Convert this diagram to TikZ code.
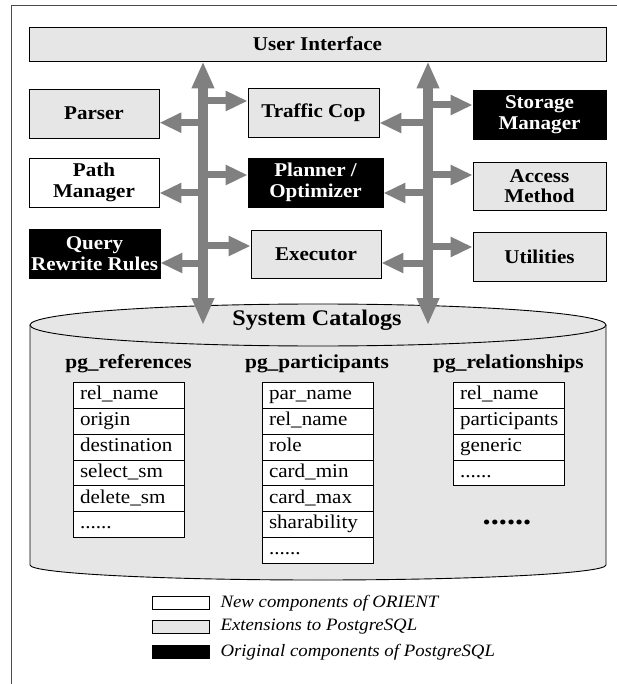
\documentclass[tikz,border=0pt]{standalone}
\usepackage{fontspec}
\setmainfont{Liberation Serif}[FakeStretch=1.08]
\usepackage{tikz}
\usetikzlibrary{arrows.meta,positioning}
\definecolor{PgBoxGray}{RGB}{230,230,230}
\definecolor{PgArrowGray}{RGB}{128,128,128}
\newcommand{\pgmore}{......}

\begin{document}
\begin{tikzpicture}[x=1pt,y=-1pt,
comp/.style n args={3}{draw=black,line width=0.9pt,fill=#1,text=#2,minimum width=#3pt,minimum height=49pt,inner sep=0pt,align=center,font=\fontsize{19.5}{20.5}\selectfont\bfseries},
cell/.style={draw=black,line width=0.8pt,fill=white,minimum width=111pt,minimum height=25.8pt,inner xsep=7pt,inner ysep=0pt,text width=97pt,text height=13pt,text depth=4pt,align=left,font=\fontsize{19.5}{20}\selectfont},
bus/.style={draw=PgArrowGray,line width=10pt,{Triangle[length=27pt,width=21pt]}-{Triangle[length=27pt,width=21pt]}},
link/.style={draw=PgArrowGray,line width=7pt,-{Triangle[length=22pt,width=19pt]}},
key/.style={draw=black,line width=0.8pt,fill=#1,minimum width=57pt,minimum height=12.5pt,inner sep=0pt},
keytext/.style={inner sep=0pt,font=\fontsize{17.4}{18}\selectfont\itshape}]
\useasboundingbox (0,0) rectangle (617,684);
\draw[line width=0.8pt,black!70] (11,684) -- (11,5) -- (617,5);
% system catalogs cylinder
\filldraw[fill=PgBoxGray,draw=black,line width=0.9pt] (30,325) -- (30,565)
   arc[start angle=180,end angle=360,x radius=288pt,y radius=15pt] -- (606,325);
\filldraw[fill=PgBoxGray,draw=black,line width=0.9pt] (318,325) ellipse[x radius=288pt,y radius=21pt];
\coordinate (cattop) at (318,325);
\coordinate (lbus) at (203,0);
\coordinate (rbus) at (428,0);
\node[font=\fontsize{22.3}{24}\selectfont\bfseries] (cat) at (317,320) {System Catalogs};
% components
\node[comp={PgBoxGray}{black}{577},minimum height=34pt] (ui) at (317.5,44) {User Interface};
\node[comp={PgBoxGray}{black}{130}] (parser) at (94,113.5) {Parser};
\node[comp={PgBoxGray}{black}{131}] (tcop) at (313.5,112.5) {Traffic Cop};
\node[comp={black}{white}{133}] (stor) at (539.5,114.5) {Storage\\Manager};
\node[comp={white}{black}{130}] (pathm) at (94,182.5) {Path\\Manager};
\node[comp={black}{white}{135}] (plan) at (315.5,182.5) {Planner /\\Optimizer};
\node[comp={PgBoxGray}{black}{133},minimum height=48pt] (access) at (539.5,186) {Access\\Method};
\node[comp={black}{white}{131}] (qrw) at (94.5,253.5) {Query\\Rewrite Rules};
\node[comp={PgBoxGray}{black}{130},minimum height=48pt] (exec) at (316,254) {Executor};
\node[comp={PgBoxGray}{black}{133}] (util) at (539.5,256.5) {Utilities};
% arrows
\foreach \b/\n/\s/\dy in {lbus/tcop/west/11.5pt,lbus/parser/east/-9.2pt,lbus/plan/west/7.5pt,
   lbus/pathm/east/-10.5pt,lbus/exec/west/8pt,lbus/qrw/east/-9.5pt,rbus/stor/west/9.5pt,
   rbus/tcop/east/-10.5pt,rbus/access/west/11pt,rbus/plan/east/-10.5pt,rbus/util/west/9.5pt,
   rbus/exec/east/-9pt} {
   \draw[link] ([yshift=\dy]\n.\s -| \b) -- ([yshift=\dy]\n.\s);
}
\draw[bus] (ui.south -| lbus) -- (cattop -| lbus);
\draw[bus] (ui.south -| rbus) -- (cattop -| rbus);
% catalog tables
\node[font=\fontsize{19.8}{21}\selectfont\bfseries] (pgref) at (128.5,364) {pg\_references};
\node[font=\fontsize{19.8}{21}\selectfont\bfseries] (pgpar) at (317,364) {pg\_participants};
\node[font=\fontsize{19.8}{21}\selectfont\bfseries] (pgrel) at (508.5,364) {pg\_relationships};
\foreach \t [count=\i] in {rel\_name,origin,destination,select\_sm,delete\_sm,\pgmore} {
   \node[cell] (ref\i) at (128.5,{395.4+(\i-1)*25.8}) {\t};
}
\foreach \t [count=\i] in {par\_name,rel\_name,role,card\_min,card\_max,sharability,\pgmore} {
   \node[cell] (par\i) at (317.5,{395.4+(\i-1)*25.8}) {\t};
}
\foreach \t [count=\i] in {rel\_name,participants,generic,\pgmore} {
   \node[cell] (rls\i) at (508.5,{395.4+(\i-1)*25.8}) {\t};
}
\node[font=\fontsize{30}{30}\selectfont\bfseries] (more) at (507,522) {\pgmore};
% legend
\node[key={white}] (knew) at (180.5,603) {};
\node[keytext,right=11pt of knew] (knew-t) {New components of ORIENT};
\node[key={PgBoxGray}] (kext) at (180.5,627) {};
\node[keytext,right=11pt of kext] (kext-t) {Extensions to PostgreSQL};
\node[key={black}] (korig) at (180.5,652) {};
\node[keytext,right=11pt of korig] (korig-t) {Original components of PostgreSQL};
\end{tikzpicture}
\end{document}
